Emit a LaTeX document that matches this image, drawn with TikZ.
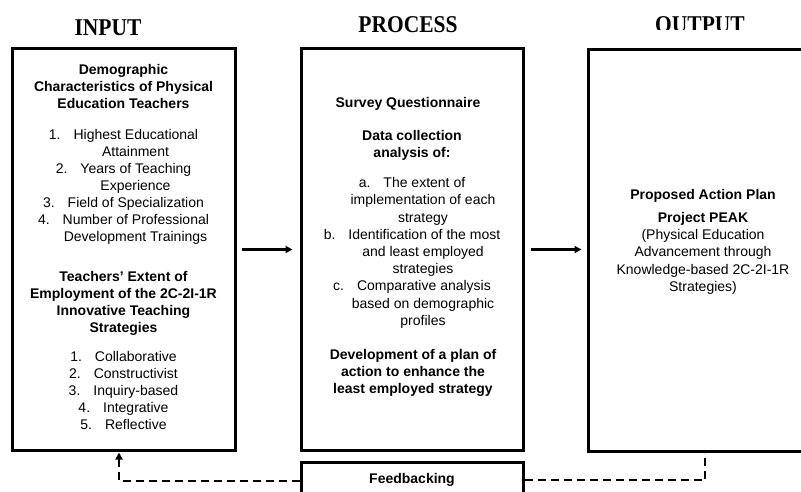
\documentclass[tikz,border=0pt]{standalone}
\usepackage{fontspec}
\setmainfont{Liberation Sans}
\newfontfamily\titlefont{Liberation Serif}
\usetikzlibrary{arrows.meta}
\tikzset{
  box/.style={draw, line width=3pt, inner sep=0pt},
  txt/.style={align=center, anchor=base, inner sep=0pt, font=\fontsize{14}{17}\selectfont},
  hd/.style={align=center, anchor=base, inner sep=0pt, font=\bfseries\fontsize{14}{17}\selectfont},
  ttl/.style={anchor=base, inner sep=0pt, font=\titlefont\bfseries\fontsize{21.5}{24}\selectfont},
  arr/.style={line width=2.2pt, -{Triangle[length=7pt,width=7pt]}},
  fb/.style={line width=2.6pt, dash pattern=on 8pt off 5pt},
}
\begin{document}
\begin{tikzpicture}[x=1pt,y=-1pt]
\useasboundingbox (0,0) rectangle (801,492);
\clip (0,0) rectangle (801,492);
% titles
\node[ttl] (tin) at (108,36) {\scalebox{1}[1.12]{INPUT}};
\node[ttl] (tpr) at (408,33) {\scalebox{1}[1.12]{PROCESS}};
\begin{scope}
\clip (600,0) rectangle (801,30);
\node[ttl] (tout) at (700,32.5) {\scalebox{1}[1.12]{OUTPUT}};
\end{scope}
% boxes
\node[box, minimum width=223pt, minimum height=401pt] (input) at (123.5,249.5) {};
\node[box, minimum width=222pt, minimum height=401pt] (process) at (412,249.5) {};
\node[box, minimum width=230pt, minimum height=401pt] (output) at (703,250.5) {};
\node[box, minimum width=222pt, minimum height=50pt] (feedback) at (412,487) {};
% input text (anchor = baseline of last line)
\node[hd] (in1) at (123.5,108.5) {Demographic\\Characteristics of Physical\\Education Teachers};
\node[txt] (in2) at (123.5,241.5) {1.\hspace{13pt}Highest Educational\\
\hspace*{24pt}Attainment\\
2.\hspace{13pt}Years of Teaching\\
\hspace*{24pt}Experience\\
3.\hspace{13pt}Field of Specialization\\
4.\hspace{13pt}Number of Professional\\
\hspace*{24pt}Development Trainings};
\node[hd] (in3) at (123.5,332.5) {Teachers’ Extent of\\Employment of the 2C-2I-1R\\Innovative Teaching\\Strategies};
\node[txt] (in4) at (123.5,429.5) {1.\hspace{13pt}Collaborative\\
2.\hspace{13pt}Constructivist\\
3.\hspace{13pt}Inquiry-based\\
4.\hspace{13pt}Integrative\\
5.\hspace{13pt}Reflective};
% process text
\node[hd] (pr1) at (408,107.5) {Survey Questionnaire};
\node[hd] (pr2) at (412,157.5) {Data collection\\analysis of:};
\node[txt, font=\fontsize{14}{17.2}\selectfont] (pr3) at (412,325.3) {a.\hspace{13pt}The extent of\\
\hspace*{22pt}implementation of each\\
\hspace*{22pt}strategy\\
b.\hspace{13pt}Identification of the most\\
\hspace*{22pt}and least employed\\
\hspace*{22pt}strategies\\
c.\hspace{13pt}Comparative analysis\\
\hspace*{22pt}based on demographic\\
\hspace*{22pt}profiles};
\node[hd] (pr4) at (413,393.5) {Development of a plan of\\action to enhance the\\least employed strategy};
% output text
\node[hd] (ou1) at (703,199.5) {Proposed Action Plan};
\node[hd] (ou2) at (703,222.5) {Project PEAK};
\node[txt, font=\fontsize{14}{17.2}\selectfont] (ou3) at (703,291.3) {(Physical Education\\Advancement through\\Knowledge-based 2C-2I-1R\\Strategies)};
% feedback text
\node[hd] (fbt) at (412,483.5) {Feedbacking};
% connectors
\draw[arr] ([xshift=5pt]input.east) -- ([xshift=-7pt]process.west);
\draw[arr] ([xshift=6pt]process.east) -- ([xshift=-5pt]output.west |- process.east);
\draw[fb, -{Triangle[length=7pt,width=7pt]}] ([yshift=6pt]feedback.west) -| ([xshift=-4.5pt,yshift=-1pt]input.south);
\draw[fb] ([yshift=7pt]feedback.east) -| ([xshift=2pt]output.south);
\end{tikzpicture}
\end{document}
